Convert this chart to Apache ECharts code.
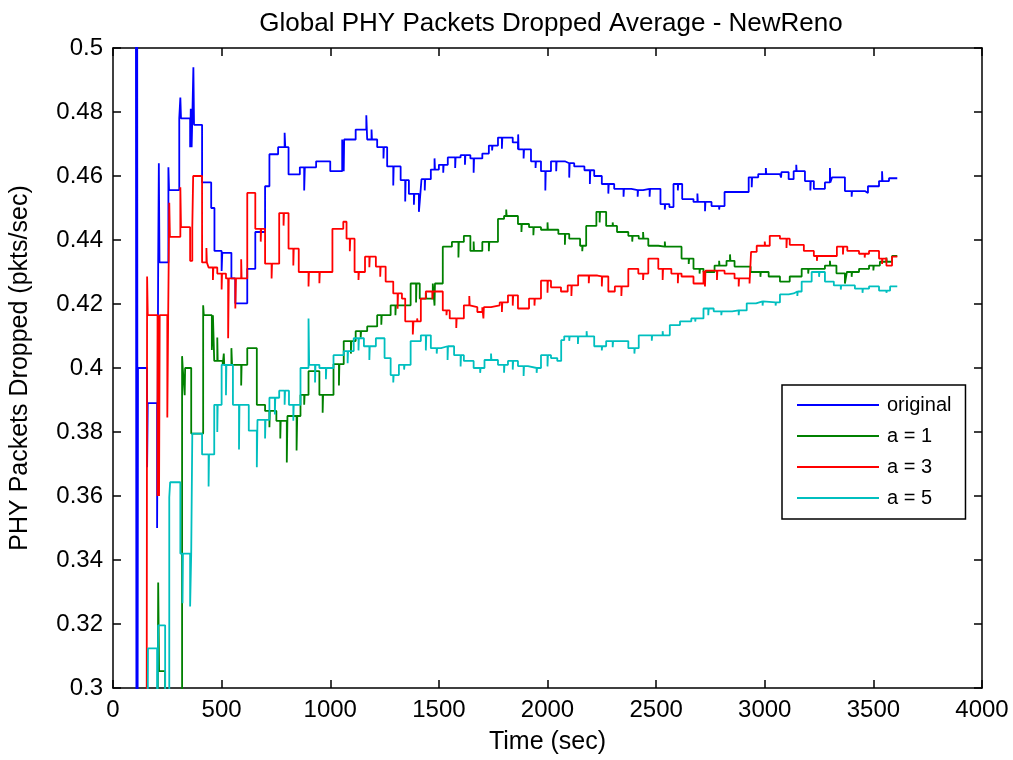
<!DOCTYPE html>
<html>
<head>
<meta charset="utf-8">
<script src="https://cdn.jsdelivr.net/npm/echarts@6/dist/echarts.min.js"></script>
<style>
  html, body { margin: 0; padding: 0; background: #fff; }
  #chart { width: 1013px; height: 760px; }
</style>
</head>
<body>
<div id="chart"></div>
<script>
// Running average of dropped PHY packets, [time (sec), pkts/sec]
const originalData = [
  [105,0.56],[108,0.27],[111,0.56],[113,0.27],[115,0.40],[157,0.369],[160,0.389],[203,0.35],
  [208,0.433],[211,0.464],[214,0.433],[255,0.4627],[258,0.4556],[305,0.478],[310,0.4845],[313,0.478],
  [355,0.469],[358,0.481],[362,0.469],[366,0.481],[370,0.494],[373,0.476],[410,0.458],[452,0.45],
  [467,0.4366],[500,0.4303],[503,0.436],[545,0.428],[563,0.4202],[618,0.431],[655,0.4425],[700,0.4568],
  [720,0.4668],[760,0.469],[790,0.4735],[793,0.469],[808,0.4605],[860,0.4627],[880,0.4555],[883,0.4627],
  [935,0.4646],[1000,0.4615],[1055,0.4714],[1117,0.4745],[1166,0.479],[1170,0.4714],[1216,0.469],
  [1262,0.463],[1324,0.4587],[1362,0.4544],[1408,0.4488],[1412,0.452],[1420,0.459],[1463,0.462],
  [1500,0.4635],[1541,0.4658],[1600,0.4665],[1645,0.4655],[1700,0.467],[1730,0.4695],[1772,0.472],
  [1840,0.4705],[1864,0.4683],[1924,0.4646],[1970,0.4615],[2016,0.4646],[2080,0.464],[2123,0.463],
  [2170,0.4618],[2215,0.46],[2250,0.4575],[2307,0.456],[2386,0.4556],[2440,0.456],[2520,0.4512],
  [2561,0.4503],[2580,0.4575],[2620,0.4528],[2672,0.4519],[2755,0.4506],[2815,0.455],[2926,0.4596],
  [2970,0.4606],[3018,0.4606],[3070,0.4612],[3110,0.459],[3133,0.4615],[3185,0.4584],[3226,0.456],
  [3277,0.458],[3310,0.4596],[3369,0.4553],[3461,0.4547],[3475,0.4568],[3526,0.4584],[3572,0.4593],
  [3610,0.4593]
];
// Short one-off excursions of the average, [time, value]
const originalSpikes = [
  [1062,0.4615],[1190,0.4745],[1245,0.4655],[1290,0.457],[1345,0.452],[1385,0.451],[1435,0.4555],
  [1480,0.4655],[1520,0.461],[1575,0.4625],[1620,0.4635],[1660,0.461],[1745,0.468],[1790,0.4685],
  [1865,0.473],[1890,0.4655],[1945,0.4625],[1990,0.4555],[2040,0.4615],[2100,0.4595],[2195,0.4575],
  [2280,0.4545],[2350,0.4535],[2415,0.4535],[2470,0.4535],[2540,0.4495],[2600,0.4555],[2690,0.4545],
  [2725,0.449],[2790,0.4495],[2940,0.4565],[3005,0.4625],[3075,0.4595],[3145,0.4635],[3210,0.4555],
  [3300,0.4625],[3400,0.4535],[3540,0.4615]
];

const a1Data = [
  [205,0.28],[208,0.333],[210,0.3199],[212,0.3053],[240,0.28],[318,0.4037],[321,0.4],[360,0.3795],
  [415,0.4196],[418,0.4165],[455,0.4056],[460,0.4165],[466,0.4022],[505,0.401],[545,0.4062],[548,0.401],
  [618,0.4062],[662,0.3885],[700,0.3866],[752,0.3835],[800,0.3705],[803,0.385],[845,0.3742],[848,0.385],
  [863,0.3916],[900,0.399],[950,0.3916],[1015,0.4012],[1062,0.4084],[1117,0.4115],[1170,0.413],
  [1216,0.4165],[1278,0.4196],[1370,0.4264],[1412,0.4217],[1472,0.4264],[1518,0.4379],[1560,0.4394],
  [1615,0.4413],[1645,0.4366],[1700,0.4394],[1772,0.4466],[1800,0.4475],[1864,0.445],[1915,0.444],
  [1970,0.4432],[2050,0.4419],[2100,0.4404],[2150,0.4382],[2178,0.4444],[2225,0.4488],[2270,0.4444],
  [2320,0.4425],[2372,0.4413],[2420,0.4404],[2464,0.4382],[2510,0.4379],[2617,0.4342],[2672,0.431],
  [2718,0.43],[2769,0.432],[2824,0.4335],[2861,0.4317],[2935,0.43],[3018,0.4286],[3070,0.427],
  [3115,0.4286],[3170,0.431],[3277,0.432],[3330,0.4296],[3369,0.4264],[3378,0.43],[3434,0.431],
  [3480,0.432],[3530,0.4332],[3586,0.435],[3610,0.435]
];
const a1Spikes = [
  [330,0.3915],[480,0.4095],[510,0.4045],[590,0.3945],[720,0.3815],[770,0.378],[880,0.3885],
  [965,0.386],[1040,0.3945],[1095,0.4045],[1140,0.4095],[1235,0.4135],[1300,0.4165],[1395,0.4205],
  [1440,0.4235],[1480,0.4195],[1590,0.4345],[1660,0.4395],[1730,0.4365],[1810,0.4495],[1880,0.4425],
  [1935,0.4415],[2000,0.4455],[2080,0.4385],[2160,0.4365],[2240,0.4455],[2300,0.4455],[2390,0.4395],
  [2440,0.4425],[2540,0.4395],[2650,0.4325],[2700,0.4295],[2790,0.4335],[2840,0.4355],[2980,0.4285],
  [3100,0.4265],[3200,0.4295],[3300,0.4335],[3400,0.4285],[3500,0.4305],[3560,0.4345]
];

const a3Data = [
  [155,0.28],[157,0.4286],[160,0.4165],[205,0.36],[208,0.4165],[212,0.36],[215,0.4165],[250,0.3845],
  [254,0.4165],[259,0.4516],[262,0.441],[310,0.4565],[313,0.444],[355,0.4335],[365,0.444],[369,0.46],
  [410,0.433],[440,0.4314],[480,0.4295],[520,0.428],[530,0.4093],[533,0.428],[563,0.4186],[566,0.428],
  [618,0.4547],[655,0.4435],[700,0.4326],[765,0.4484],[808,0.4373],[855,0.43],[1010,0.4435],
  [1060,0.4457],[1075,0.4404],[1112,0.43],[1160,0.4348],[1210,0.4317],[1255,0.427],[1290,0.4233],
  [1330,0.4217],[1345,0.4146],[1380,0.4105],[1383,0.4146],[1417,0.4217],[1440,0.4239],[1518,0.418],
  [1550,0.4155],[1615,0.4196],[1645,0.419],[1677,0.4175],[1700,0.419],[1740,0.4196],[1780,0.4205],
  [1818,0.4227],[1864,0.4186],[1915,0.4217],[1970,0.4273],[2016,0.4252],[2062,0.4239],[2093,0.4258],
  [2141,0.4289],[2230,0.4286],[2280,0.4239],[2310,0.4255],[2372,0.431],[2418,0.4295],[2464,0.4342],
  [2510,0.431],[2570,0.4295],[2617,0.4286],[2672,0.4264],[2718,0.4304],[2815,0.4295],[2861,0.428],
  [2930,0.4264],[2937,0.4363],[2963,0.4382],[3023,0.4413],[3070,0.4404],[3115,0.4385],[3180,0.4366],
  [3226,0.435],[3332,0.4379],[3380,0.4366],[3434,0.4357],[3480,0.4366],[3526,0.4342],[3560,0.432],
  [3586,0.4348],[3610,0.4348]
];
const a3Spikes = [
  [430,0.4375],[460,0.4275],[500,0.4245],[590,0.434],[680,0.4395],[730,0.428],[785,0.4445],
  [830,0.432],[900,0.4255],[950,0.4265],[1090,0.4365],[1130,0.4275],[1180,0.4315],[1230,0.4285],
  [1310,0.4185],[1400,0.4155],[1470,0.4215],[1535,0.4165],[1580,0.4125],[1640,0.4225],[1705,0.4155],
  [1790,0.4175],[1840,0.4195],[1940,0.4195],[2000,0.4235],[2110,0.4225],[2190,0.4265],[2250,0.4255],
  [2340,0.4225],[2440,0.4275],[2530,0.4275],[2600,0.4265],[2725,0.4255],[2780,0.4275],[2880,0.4255],
  [3000,0.4395],[3100,0.4375],[3240,0.4335],[3360,0.4355],[3460,0.4345],[3540,0.4325]
];

const a5Data = [
  [159,0.28],[161,0.3124],[203,0.28],[208,0.3196],[240,0.28],[259,0.3596],[263,0.3643],[310,0.342],
  [355,0.3255],[360,0.342],[365,0.3795],[410,0.373],[466,0.3885],[500,0.401],[552,0.3885],[625,0.3804],
  [662,0.369],[665,0.3838],[720,0.3907],[765,0.3929],[810,0.3885],[863,0.4],[900,0.4155],[903,0.401],
  [950,0.4],[1015,0.404],[1062,0.4053],[1108,0.4093],[1155,0.4068],[1210,0.4093],[1250,0.4031],
  [1278,0.3978],[1316,0.401],[1370,0.4084],[1417,0.4102],[1463,0.4062],[1510,0.4068],[1570,0.404],
  [1615,0.4022],[1660,0.4],[1710,0.4025],[1772,0.401],[1818,0.4022],[1864,0.4006],[1910,0.4],
  [1970,0.404],[2016,0.4031],[2045,0.4022],[2063,0.4087],[2077,0.4099],[2215,0.4068],[2270,0.4084],
  [2372,0.4062],[2420,0.4102],[2563,0.4134],[2610,0.4146],[2662,0.4155],[2718,0.4186],[2765,0.4177],
  [2850,0.418],[2917,0.4202],[2960,0.4208],[3000,0.4205],[3070,0.423],[3110,0.4233],[3133,0.4239],
  [3170,0.427],[3216,0.43],[3277,0.427],[3318,0.4258],[3415,0.4248],[3480,0.4255],[3526,0.4242],
  [3577,0.4255],[3610,0.4255]
];
const a5Spikes = [
  [320,0.3265],[440,0.363],[480,0.38],[520,0.3915],[580,0.3745],[700,0.378],[745,0.3855],
  [790,0.3885],[830,0.3835],[930,0.3955],[980,0.3965],[1080,0.4015],[1130,0.4055],[1180,0.4025],
  [1290,0.3955],[1340,0.3995],[1440,0.4055],[1490,0.4045],[1540,0.4025],[1600,0.4005],[1690,0.3985],
  [1740,0.4045],[1800,0.3985],[1840,0.3995],[1890,0.3975],[1950,0.3985],[2000,0.4005],[2100,0.4085],
  [2140,0.4075],[2180,0.4115],[2250,0.4055],[2300,0.4065],[2400,0.4045],[2480,0.4085],[2530,0.4115],
  [2680,0.4145],[2740,0.4165],[2800,0.4165],[2880,0.4165],[2990,0.4195],[3050,0.4195],[3150,0.4225],
  [3250,0.4285],[3350,0.4245],[3450,0.4235],[3560,0.4235]
];

const seriesNames = ['original', 'a = 1', 'a = 3', 'a = 5'];
const seriesColors = ['#0000ff', '#008000', '#ff0000', '#00bfbf'];

// Put each excursion back into its step trace: jump to the spike value,
// then return to the level the trace holds at that time.
function withSpikes(base, spikes) {
  const pts = base.slice();
  spikes.forEach(([t, v]) => {
    let hold = base[0][1];
    for (const p of base) { if (p[0] <= t) hold = p[1]; else break; }
    pts.push([t, v], [t + 2, hold]);
  });
  return pts.sort((a, b) => a[0] - b[0]);
}

const seriesData = [
  withSpikes(originalData, originalSpikes),
  withSpikes(a1Data, a1Spikes),
  withSpikes(a3Data, a3Spikes),
  withSpikes(a5Data, a5Spikes)
];

const FONT = '"Liberation Sans", Arial, sans-serif';

const chart = echarts.init(document.getElementById('chart'), null, { renderer: 'canvas' });

const frameAxis = {
  axisLine: { show: true, onZero: false, lineStyle: { color: '#000', width: 1.5 } },
  axisTick: { show: true, inside: true, length: 8, lineStyle: { color: '#000', width: 1.5 } },
  splitLine: { show: false }
};

chart.setOption({
  animation: false,
  backgroundColor: '#fff',
  title: {
    text: 'Global PHY Packets Dropped Average - NewReno',
    left: 546,
    top: 6,
    textAlign: 'center',
    textStyle: { fontFamily: FONT, fontSize: 26, fontWeight: 'normal', color: '#000' }
  },
  legend: {
    data: seriesNames,
    orient: 'vertical',
    left: 782,
    top: 385,
    icon: 'rect',
    itemWidth: 82,
    itemHeight: 2,
    itemGap: 11,
    padding: [10, 14, 11, 15],
    backgroundColor: '#fff',
    borderColor: '#000',
    borderWidth: 1.5,
    textStyle: { fontFamily: FONT, fontSize: 20, color: '#000', padding: [0, 0, 0, 3] }
  },
  grid: { left: 113, right: 31, top: 48, bottom: 68 },
  xAxis: [
    Object.assign({
      type: 'value', min: 0, max: 4000, interval: 500, position: 'bottom',
      name: 'Time (sec)', nameLocation: 'middle', nameGap: 42,
      nameTextStyle: { fontFamily: FONT, fontSize: 25, color: '#000' },
      axisLabel: { fontFamily: FONT, fontSize: 24, color: '#000', margin: 10, formatter: v => String(v) }
    }, frameAxis),
    Object.assign({
      type: 'value', min: 0, max: 4000, interval: 500, position: 'top',
      axisLabel: { show: false }
    }, frameAxis)
  ],
  yAxis: [
    Object.assign({
      type: 'value', min: 0.3, max: 0.5, interval: 0.02, position: 'left',
      name: 'PHY Packets Dropped (pkts/sec)', nameLocation: 'middle', nameGap: 80,
      nameTextStyle: { fontFamily: FONT, fontSize: 25, color: '#000' },
      axisLabel: {
        fontFamily: FONT, fontSize: 24, color: '#000', margin: 10,
        formatter: v => String(parseFloat(v.toFixed(2)))
      }
    }, frameAxis),
    Object.assign({
      type: 'value', min: 0.3, max: 0.5, interval: 0.02, position: 'right',
      axisLabel: { show: false }
    }, frameAxis)
  ],
  series: seriesData.map((d, i) => ({
    name: seriesNames[i],
    type: 'line',
    step: 'end',
    data: d,
    xAxisIndex: 0,
    yAxisIndex: 0,
    showSymbol: false,
    symbol: 'none',
    clip: true,
    color: seriesColors[i],
    lineStyle: { color: seriesColors[i], width: 1.8 }
  }))
});
</script>
</body>
</html>
